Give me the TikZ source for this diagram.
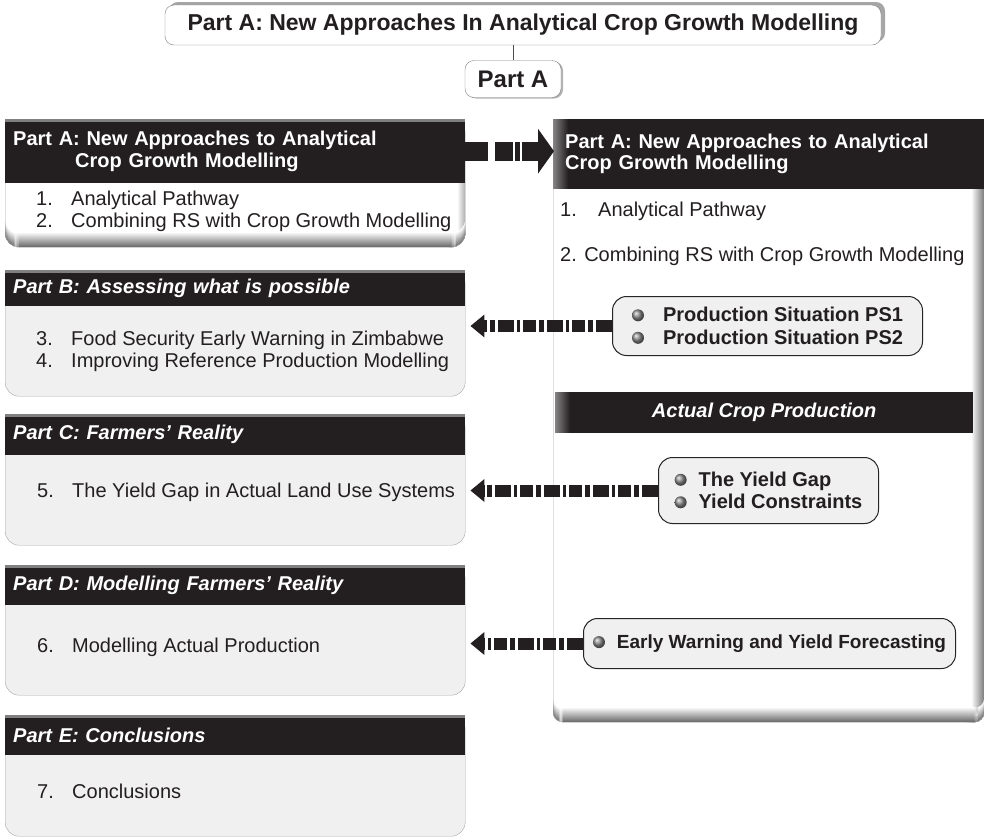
\documentclass[tikz,border=0pt]{standalone}
\usepackage{fontspec}
\setmainfont{Liberation Sans}
\usetikzlibrary{arrows.meta,shadows}

\definecolor{barblack}{RGB}{35,31,32}
\definecolor{inktext}{RGB}{35,31,32}
\definecolor{boxgray}{RGB}{240,240,240}

\newcommand{\fsz}{\fontsize{20}{22}\selectfont}
\newcommand{\itm}[3][35pt]{\makebox[#1][l]{#2}#3}
\newcommand{\bball}{\tikz[baseline=-0.33em]\shade[ball color=black!45] (0,0) circle (6pt);}

\tikzset{
  title box/.style={draw=black!50, fill=white, rounded corners=9pt, inner xsep=10pt,
    text=inktext, font=\bfseries\fontsize{23}{26}\selectfont},
  lhead/.style={fill=barblack, text=white, anchor=north west, minimum width=460pt,
    text width=444pt, inner xsep=8pt, inner ysep=0pt, align=left,
    font=\bfseries\itshape\fsz,
    path picture={\fill[black!50] (path picture bounding box.north west)
      rectangle ([yshift=-3pt]path picture bounding box.north east);}},
  lbody/.style={fill=boxgray, draw=black!35, rounded corners=14pt, anchor=north west,
    minimum width=460pt, inner sep=0pt},
  % grey fade along the right and bottom edges
  shaded edges/.style={path picture={
      \foreach \k [evaluate=\k as \c using int(\k*4)] in {0,...,#1}
        \fill[black!\c] ([xshift=(\k-#1-1)*1pt]path picture bounding box.north east)
          rectangle ([xshift=(\k-#1)*1pt]path picture bounding box.south east);
      \foreach \k [evaluate=\k as \c using int(\k*4)] in {0,...,14}
        \fill[black!\c] ([yshift=(15-\k)*1pt]path picture bounding box.south west)
          rectangle ([yshift=(14-\k)*1pt]path picture bounding box.south east);}},
  dark bar/.style={fill=barblack, text=white, anchor=north west, inner ysep=0pt,
    path picture={
      \foreach \k [evaluate=\k as \c using int(55+\k*3)] in {0,...,15}
        \fill[barblack!\c!white] ([xshift=\k*1pt]path picture bounding box.north west)
          rectangle ([xshift=\k*1pt+1.2pt]path picture bounding box.south west);}},
  entry/.style={anchor=west, align=left, inner sep=0pt, text=inktext, font=\fsz},
  bubble/.style={draw=black!85, line width=1pt, fill=boxgray, rounded corners=14pt,
    anchor=north west, align=left, inner sep=0pt, text=inktext,
    font=\bfseries\fontsize{20}{22.5}\selectfont},
  fat arrow/.style={barblack, line width=12pt,
    dash pattern=on 16pt off 3pt on 5pt off 3pt on 13pt off 3pt on 3pt off 3pt,
    -{Triangle[length=14pt,width=22pt]}, shorten >=5pt},
}

\begin{document}
\begin{tikzpicture}[x=1pt, y=-1pt]
  \useasboundingbox (0,0) rectangle (984,839);

  % heading with its tag underneath
  \node[title box, minimum width=716pt, minimum height=40pt,
        drop shadow={shadow xshift=4pt, shadow yshift=3pt, fill=black!35, opacity=1}]
        (title) at (523,25) {Part A: New Approaches In Analytical Crop Growth Modelling};
  \node[title box, minimum width=96pt, minimum height=37pt,
        font=\bfseries\fontsize{24}{26}\selectfont,
        drop shadow={shadow xshift=2pt, shadow yshift=-1pt, fill=black!30, opacity=1}]
        (tag) at (513,79) {Part A};
  \draw[black!70] (tag.north) -- (tag.north |- title.south);

  % left column, part A
  \node[lbody, fill=white, minimum height=128pt, shaded edges=7] (bodyA) at (5,119) {};
  \node[lhead, minimum height=64pt, font=\bfseries\fontsize{20}{22}\selectfont] (headA) at (5,119)
    {Part A: New Approaches to Analytical\\\hspace*{62pt}Crop Growth Modelling};
  \node[entry] (itemsA) at (36,211)
    {\itm{1.}{Analytical Pathway}\\\itm{2.}{Combining RS with Crop Growth Modelling}};

  % left column, parts B to E
  \foreach \nm/\top/\hh/\bh/\ttl in {B/270/36/126/{Part B: Assessing what is possible},
                                     C/414/41/131/{Part C: Farmers' Reality},
                                     D/565/40/130/{Part D: Modelling Farmers' Reality},
                                     E/715/40/121/{Part E: Conclusions}}
  {
    \node[lbody, minimum height=\bh pt] (body\nm) at (5,\top) {};
    \node[lhead, minimum height=\hh pt] (head\nm) at (5,\top) {\ttl};
  }
  \node[entry] (itemsB) at (36,351)
    {\itm{3.}{Food Security Early Warning in Zimbabwe}\\\itm{4.}{Improving Reference Production Modelling}};
  \node[entry] (itemsC) at (37,492) {\itm{5.}{The Yield Gap in Actual Land Use Systems}};
  \node[entry] (itemsD) at (37,647) {\itm{6.}{Modelling Actual Production}};
  \node[entry] (itemsE) at (37,791) {\itm{7.}{Conclusions}};

  % right column
  \node[anchor=north west, fill=white, draw=black!35, rounded corners=10pt,
        minimum width=431pt, minimum height=603pt, inner sep=0pt, shaded edges=12]
        (rpanel) at (553,119) {};
  \node[dark bar, minimum width=431pt, minimum height=70pt, text width=407pt,
        inner xsep=12pt, align=left, font=\bfseries\fontsize{20}{21}\selectfont]
        (rhead) at (553,119)
    {Part A: New Approaches to Analytical\\Crop Growth Modelling};
  \node[entry] (ritem1) at (560,211) {\itm[38pt]{1.}{Analytical Pathway}};
  \node[entry] (ritem2) at (560,256) {2. Combining RS with Crop Growth Modelling};
  \node[dark bar, minimum width=418pt, minimum height=41pt,
        font=\bfseries\itshape\fsz] (actual) at (555,392) {Actual Crop Production};

  \node[bubble, minimum width=310pt, minimum height=59pt] (ps) at (612,296)
    {\bball\hspace{19pt}Production Situation PS1\\\bball\hspace{19pt}Production Situation PS2};
  \node[bubble, minimum width=220pt, minimum height=66pt] (gap) at (658,457)
    {\bball\hspace{12pt}The Yield Gap\\\bball\hspace{12pt}Yield Constraints};
  \node[bubble, minimum width=372pt, minimum height=50pt,
        font=\bfseries\fontsize{19}{21}\selectfont] (warn) at (583,618)
    {\bball\hspace{12pt}Early Warning and Yield Forecasting};

  % links between the columns
  \draw[fat arrow, line width=19pt,
        dash pattern=on 23pt off 7pt on 18pt off 2pt on 5pt off 2pt on 30pt off 4pt,
        -{Triangle[length=16pt,width=44pt]}, shorten >=-1pt]
    (headA.east) -- (headA.east -| rhead.west);
  \draw[fat arrow] (ps.west) -- (ps.west -| bodyB.east);
  \draw[fat arrow] (gap.west) -- (gap.west -| bodyC.east);
  \draw[fat arrow] (warn.west) -- (warn.west -| bodyD.east);
\end{tikzpicture}
\end{document}
